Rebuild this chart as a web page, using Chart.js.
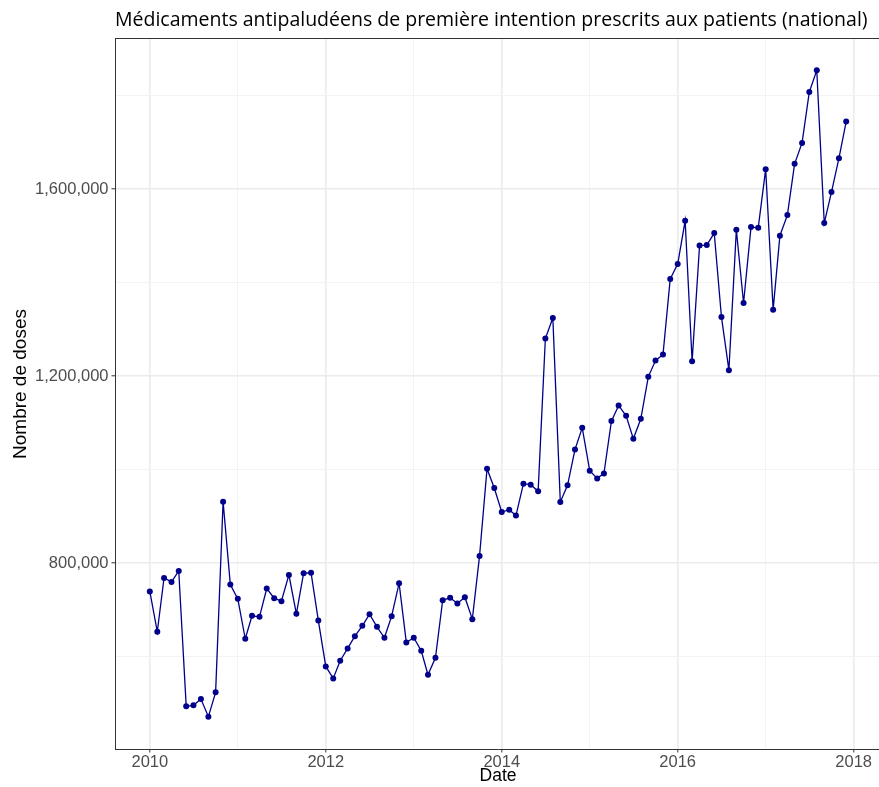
<!DOCTYPE html>
<html lang="fr">
<head>
<meta charset="utf-8">
<title>Médicaments antipaludéens de première intention prescrits aux patients (national)</title>
<script src="https://cdn.jsdelivr.net/npm/chart.js@4.4.1/dist/chart.umd.min.js"></script>
<style>
  html, body { margin: 0; padding: 0; background: #ffffff; overflow: hidden; }
  #wrap { width: 884px; height: 787px; position: relative; }
</style>
</head>
<body>
<div id="wrap"><canvas id="chart"></canvas></div>
<script>
// Monthly doses prescribed, Jan 2010 – Dec 2017
const months = [
  "2010-01","2010-02","2010-03","2010-04","2010-05","2010-06","2010-07","2010-08","2010-09","2010-10","2010-11","2010-12",
  "2011-01","2011-02","2011-03","2011-04","2011-05","2011-06","2011-07","2011-08","2011-09","2011-10","2011-11","2011-12",
  "2012-01","2012-02","2012-03","2012-04","2012-05","2012-06","2012-07","2012-08","2012-09","2012-10","2012-11","2012-12",
  "2013-01","2013-02","2013-03","2013-04","2013-05","2013-06","2013-07","2013-08","2013-09","2013-10","2013-11","2013-12",
  "2014-01","2014-02","2014-03","2014-04","2014-05","2014-06","2014-07","2014-08","2014-09","2014-10","2014-11","2014-12",
  "2015-01","2015-02","2015-03","2015-04","2015-05","2015-06","2015-07","2015-08","2015-09","2015-10","2015-11","2015-12",
  "2016-01","2016-02","2016-03","2016-04","2016-05","2016-06","2016-07","2016-08","2016-09","2016-10","2016-11","2016-12",
  "2017-01","2017-02","2017-03","2017-04","2017-05","2017-06","2017-07","2017-08","2017-09","2017-10","2017-11","2017-12"
];

const doses = [
  739600, 653300, 768600, 760100, 783600, 493900, 496100, 509600, 471800, 523800, 931700, 754500,
  723800, 638400, 687500, 685300, 745900, 725300, 718800, 775100, 691800, 778600, 779400, 677600,
  579300, 553700, 591400, 617800, 644100, 666200, 691100, 664000, 640600, 686800, 757300, 630600,
  640600, 612800, 561500, 597800, 721000, 726000, 713900, 727400, 680400, 815700, 1002200, 960800,
  909600, 914600, 902000, 970200, 968100, 953800, 1280500, 1324700, 931000, 966600, 1043500, 1089700,
  997900, 981500, 992200, 1104000, 1137400, 1115300, 1066200, 1109000, 1198700, 1233500, 1246300, 1408000,
  1440000, 1532500, 1232000, 1479800, 1480600, 1506200, 1326800, 1212900, 1513300, 1356700, 1519000, 1517500,
  1642900, 1342400, 1500500, 1544600, 1654200, 1699100, 1808000, 1854300, 1527600, 1593800, 1666400, 1744600
];

// Axis breaks: labelled (major) and unlabelled (minor) gridlines
const yearTicks = [2010, 2012, 2014, 2016, 2018];
const yearMinor = [2011, 2013, 2015, 2017];
const doseTicks = [800000, 1200000, 1600000];
const doseMinor = [600000, 1000000, 1400000, 1800000];

const titleText = "Médicaments antipaludéens de première intention prescrits aux patients (national)";
const xTitle = "Date";
const yTitle = "Nombre de doses";

// Convert "YYYY-MM" to a fractional year (first day of the month)
function toYear(s) {
  const [y, m] = s.split("-").map(Number);
  const start = Date.UTC(y, 0, 1), end = Date.UTC(y + 1, 0, 1);
  return y + (Date.UTC(y, m - 1, 1) - start) / (end - start);
}

const points = months.map((m, i) => ({ x: toYear(m), y: doses[i] }));

// 5% expansion on each side of the data range
const xs = points.map(p => p.x);
const xLo = Math.min(...xs), xHi = Math.max(...xs);
const yLo = Math.min(...doses), yHi = Math.max(...doses);
const xPad = (xHi - xLo) * 0.05, yPad = (yHi - yLo) * 0.05;

const GRID_MAJOR = "#EBEBEB";
const GRID_MINOR = "#F3F3F3";
const AXIS = "#333333";
const TICK_TEXT = "#4D4D4D";
const LINE = "#00008B";

const isMajorYear = v => yearTicks.includes(Math.round(v));
const isMajorDose = v => doseTicks.includes(Math.round(v));

// Panel top edge and the rotated y-axis title
const decorations = {
  id: "decorations",
  afterDraw(chart) {
    const { ctx, chartArea } = chart;
    ctx.save();
    ctx.strokeStyle = AXIS;
    ctx.lineWidth = 1;
    ctx.beginPath();
    const y = Math.round(chartArea.top) + 0.5;
    ctx.moveTo(chartArea.left, y);
    ctx.lineTo(chartArea.right, y);
    ctx.stroke();

    ctx.translate(21, 384);
    ctx.rotate(-Math.PI / 2);
    ctx.fillStyle = "#000000";
    ctx.font = "19px 'Liberation Sans'";
    ctx.textAlign = "center";
    ctx.textBaseline = "middle";
    ctx.fillText(yTitle, 0, 0);
    ctx.restore();
  }
};

new Chart(document.getElementById("chart"), {
  type: "line",
  data: {
    datasets: [{
      data: points,
      borderColor: LINE,
      backgroundColor: LINE,
      borderWidth: 1.3,
      pointRadius: 3,
      pointBackgroundColor: LINE,
      pointBorderWidth: 0,
      pointHoverRadius: 3,
      tension: 0,
      clip: false
    }]
  },
  options: {
    responsive: true,
    maintainAspectRatio: false,
    devicePixelRatio: 1,
    animation: false,
    events: [],
    layout: { padding: { left: 0, right: 2, top: 0, bottom: 0 } },
    plugins: {
      legend: { display: false },
      tooltip: { enabled: false },
      title: {
        display: true,
        text: titleText,
        align: "start",
        fullSize: false,
        color: "#000000",
        font: { family: "Open Sans", size: 19.5, weight: "normal", lineHeight: 1.2 },
        padding: { top: 8.3, bottom: 6.3 }
      }
    },
    scales: {
      x: {
        type: "linear",
        min: xLo - xPad,
        max: xHi + xPad,
        afterFit: s => { s.height = 38; },
        afterBuildTicks: s => {
          s.ticks = [...yearTicks, ...yearMinor].sort((a, b) => a - b).map(v => ({ value: v }));
        },
        ticks: {
          autoSkip: false,
          maxRotation: 0,
          padding: 0,
          color: TICK_TEXT,
          font: { family: "Liberation Sans", size: 16.5, lineHeight: 1.2 },
          callback: v => isMajorYear(v) ? String(Math.round(v)) : ""
        },
        grid: {
          color: c => (c.tick && isMajorYear(c.tick.value)) ? GRID_MAJOR : GRID_MINOR,
          lineWidth: c => (c.tick && isMajorYear(c.tick.value)) ? 1.6 : 1,
          tickColor: c => (c.tick && isMajorYear(c.tick.value)) ? AXIS : "rgba(0,0,0,0)",
          tickLength: 3.5,
          tickWidth: 1
        },
        border: { display: true, color: AXIS, width: 1 },
        title: {
          display: true,
          text: xTitle,
          color: "#000000",
          font: { family: "Liberation Sans", size: 17.5, lineHeight: 1.2 },
          padding: { top: 0, bottom: 0 }
        }
      },
      y: {
        type: "linear",
        min: yLo - yPad,
        max: yHi + yPad,
        afterFit: s => { s.width = 115; },
        afterBuildTicks: s => {
          s.ticks = [...doseTicks, ...doseMinor].sort((a, b) => a - b).map(v => ({ value: v }));
        },
        ticks: {
          autoSkip: false,
          padding: 3,
          color: TICK_TEXT,
          font: { family: "Liberation Sans", size: 16.5, lineHeight: 1.2 },
          callback: v => isMajorDose(v) ? Math.round(v).toLocaleString("en-US") : ""
        },
        grid: {
          color: c => (c.tick && isMajorDose(c.tick.value)) ? GRID_MAJOR : GRID_MINOR,
          lineWidth: c => (c.tick && isMajorDose(c.tick.value)) ? 1.6 : 1,
          tickColor: c => (c.tick && isMajorDose(c.tick.value)) ? AXIS : "rgba(0,0,0,0)",
          tickLength: 3.5,
          tickWidth: 1
        },
        border: { display: true, color: AXIS, width: 1 },
        title: { display: false }
      }
    }
  },
  plugins: [decorations]
});
</script>
</body>
</html>
